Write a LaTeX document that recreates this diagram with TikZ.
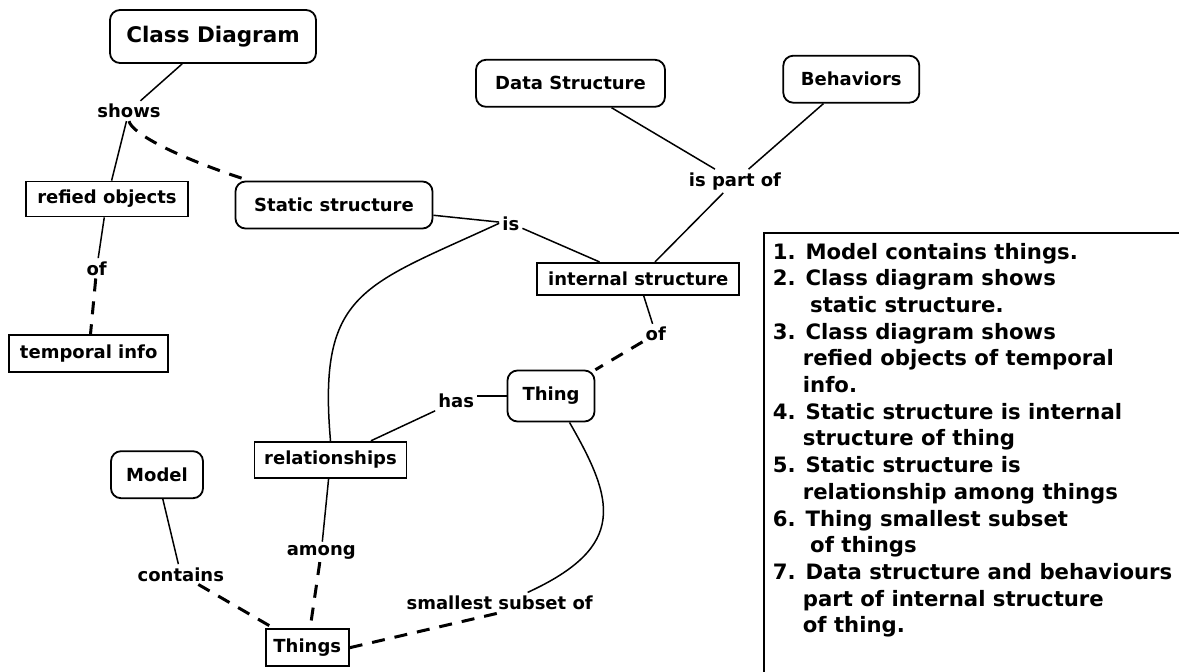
\documentclass[tikz,border=0pt]{standalone}
\usepackage{fontspec}
\setmainfont{DejaVu Sans}
\newcommand\labfont{\fontsize{18}{21}\selectfont\bfseries}
\newcommand\bigfont{\fontsize{21.5}{25}\selectfont\bfseries}
\newcommand\notefont{\fontsize{21.2}{26.7}\selectfont\bfseries}
\begin{document}
\begin{tikzpicture}[x=1pt,y=-1pt,
  concept/.style={draw,line width=1.8pt,rounded corners=10pt,font=\labfont,inner sep=0pt},
  rbox/.style={draw,line width=1.8pt,font=\labfont,inner sep=0pt},
  lbl/.style={font=\labfont,inner sep=3pt,anchor=base},
  conn/.style={line width=1.5pt},
  dsh/.style={line width=3pt,dash pattern=on 13pt off 10pt},
  note/.style={font=\notefont,inner sep=0pt,anchor=base west}]
\fill[white] (0,0) rectangle (1179,672);
\useasboundingbox (0,0) rectangle (1179,672);

% concepts and labels
\node[concept,minimum width=206pt,minimum height=53pt,font=\bigfont] (cd) at (213,36.5) {Class Diagram};
\node[lbl] (shows) at (129,117.7) {shows};
\node[rbox,minimum width=162pt,minimum height=35pt] (ro) at (107,199) {refied objects};
\node[concept,minimum width=197pt,minimum height=47pt] (ss) at (334,205) {Static structure};
\node[lbl] (of1) at (96.7,275) {of};
\node[rbox,minimum width=159pt,minimum height=37pt] (ti) at (88.7,353.3) {temporal info};
\node[concept,minimum width=189pt,minimum height=47pt] (ds) at (570.5,83.3) {Data Structure};
\node[concept,minimum width=136pt,minimum height=47pt] (beh) at (851.3,79.2) {Behaviors};
\node[lbl] (ipo) at (735,186) {is part of};
\node[lbl] (is) at (510.8,230) {is};
\node[rbox,minimum width=202pt,minimum height=32pt] (is2) at (638.3,278.8) {internal structure};
\node[lbl] (of2) at (655.8,340.7) {of};
\node[concept,minimum width=87pt,minimum height=51pt] (thing) at (551,396) {Thing};
\node[lbl] (has) at (456.2,407.7) {has};
\node[rbox,minimum width=152pt,minimum height=36pt] (rel) at (330.5,459.7) {relationships};
\node[concept,minimum width=92pt,minimum height=47pt] (model) at (157,474.7) {Model};
\node[lbl] (among) at (321.3,555) {among};
\node[lbl] (contains) at (180.8,581) {contains};
\node[lbl] (sm) at (499.7,609.3) {smallest subset of};
\node[rbox,minimum width=83pt,minimum height=37pt] (things) at (307.3,647.7) {Things};

% connectors
\draw[conn] (cd) -- (shows);
\draw[conn] (shows) -- (ro);
\draw[dsh,shorten >=5pt] (shows.south) .. controls +(3,12) and +(-76,-25) .. (ss.164);
\draw[conn] (ro) -- (of1);
\draw[dsh] (of1) -- (ti);
\draw[conn] (ss) -- (is);
\draw[conn] (is) -- (is2);
\draw[conn] (is.west) .. controls +(-136,63) and +(-13,-150) .. (rel.north);
\draw[conn] (ds) -- (ipo);
\draw[conn] (beh) -- (ipo);
\draw[conn] (ipo) -- (is2);
\draw[conn] (is2) -- (of2);
\draw[dsh] (of2) -- (thing);
\draw[conn] (thing.west) -- (has.east |- thing.west);
\draw[conn] (has) -- (rel);
\draw[conn] (rel) -- (among);
\draw[dsh] (among) -- (things);
\draw[conn] (model) -- (contains);
\draw[dsh] (contains) -- (things);
\draw[conn] (thing.305) .. controls +(45,78) and +(100,-46) .. (sm.20);
\draw[dsh] (things.east) -- (sm.south);

% notes box
\draw[line width=1.6pt] (764,672) |- (1179,233);
\foreach \x/\t [count=\i from 0] in {
  772.7/{1. Model contains things.},
  772.7/{2. Class diagram shows},
  810/{static structure.},
  772.7/{3. Class diagram shows},
  802.7/{refied objects of temporal},
  802.7/{info.},
  772.7/{4. Static structure is internal},
  802.7/{structure of thing},
  772.7/{5. Static structure is},
  802.7/{relationship among things},
  772.7/{6. Thing smallest subset},
  810/{of things},
  772.7/{7. Data structure and behaviours},
  802.7/{part of internal structure},
  802.7/{of thing.}}
  \node[note] (t\i) at (\x,{259+26.7*\i}) {\t};
\end{tikzpicture}
\end{document}
